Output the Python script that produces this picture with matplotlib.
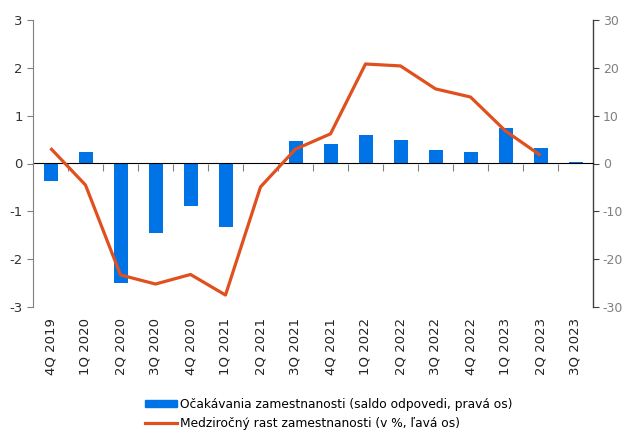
import matplotlib
matplotlib.use("Agg")
import matplotlib.pyplot as plt
import numpy as np
from matplotlib.patches import Patch
from matplotlib.lines import Line2D

categories = ["4Q 2019", "1Q 2020", "2Q 2020", "3Q 2020", "4Q 2020", "1Q 2021", "2Q 2021",
              "3Q 2021", "4Q 2021", "1Q 2022", "2Q 2022", "3Q 2022", "4Q 2022", "1Q 2023",
              "2Q 2023", "3Q 2023"]
# bars: expectations (right axis)
expectations = [-3.6, 2.4, -24.9, -14.6, -8.8, -13.2, 0.0, 4.7, 4.0, 5.9, 4.9, 2.8, 2.5, 7.5, 3.2, 0.3]
# line: employment growth (left axis)
growth = [0.32, -0.45, -2.33, -2.52, -2.32, -2.75, -0.49, 0.30, 0.62, 2.08, 2.04, 1.56, 1.39, 0.68, 0.17]

bar_label = "Očakávania zamestnanosti (saldo odpovedi, pravá os)"
line_label = "Medziročný rast zamestnanosti (v %, ľavá os)"

BLUE = "#0073E6"
ORANGE = "#E0501E"

plt.rcParams['font.family'] = ['DejaVu Sans']
plt.rcParams['axes.unicode_minus'] = False
fig = plt.figure(figsize=(6.26, 4.32), dpi=100)
ax = fig.add_axes([33/626, 1-307/432, (593-33)/626, (307-20)/432])
ax2 = ax.twinx()

x = np.arange(len(categories))
ax2.bar(x, expectations, width=0.4, color=BLUE)
ax.plot(x[:len(growth)], growth, color=ORANGE, lw=2.3, solid_capstyle='butt')

ax.set_zorder(ax2.get_zorder() + 1)
ax.patch.set_visible(False)

ax.set_xlim(-0.5, len(categories) - 0.5)
ax.set_ylim(-3, 3)
ax2.set_ylim(-30, 30)
ax.set_yticks(np.arange(-3, 4, 1))
ax2.set_yticks(np.arange(-30, 31, 10))

for a in (ax, ax2):
    for s in ("top", "bottom"):
        a.spines[s].set_visible(False)
ax.spines["right"].set_visible(False)
ax2.spines["left"].set_visible(False)
ax.spines["left"].set_color("#808080")
ax2.spines["right"].set_color("#404040")
ax2.spines["right"].set_linewidth(1.0)

ax.tick_params(axis='y', labelsize=9.5, colors="#333333", length=4, color="#808080")
ax2.tick_params(axis='y', labelsize=9, labelcolor="#808080", length=4, color="#404040", pad=3)

ax.set_xticks(x)
ax.set_xticklabels(categories, rotation=90, fontsize=9.5, color="#222222")
ax.tick_params(axis='x', length=0, pad=8)

sec = ax.secondary_xaxis(0.5)
sec.set_xticks(np.arange(0.5, len(categories) - 0.5, 1))
sec.set_xticklabels([])
sec.tick_params(axis='x', which='both', bottom=True, top=False, direction='out',
                length=5, color="#808080")
sec.xaxis.set_ticks_position('bottom')
sec.spines['bottom'].set_color("#808080")

handles = [Patch(color=BLUE), Line2D([0], [0], color=ORANGE, lw=2.3)]
fig.legend(handles, [bar_label, line_label], loc='upper left',
           bbox_to_anchor=(145/626, 1-398/432), borderaxespad=0, borderpad=0,
           frameon=False, fontsize=8.8, handlelength=2.6, handleheight=0.45,
           handletextpad=0.25, labelspacing=0.5)

fig.savefig("out.png", dpi=100)
